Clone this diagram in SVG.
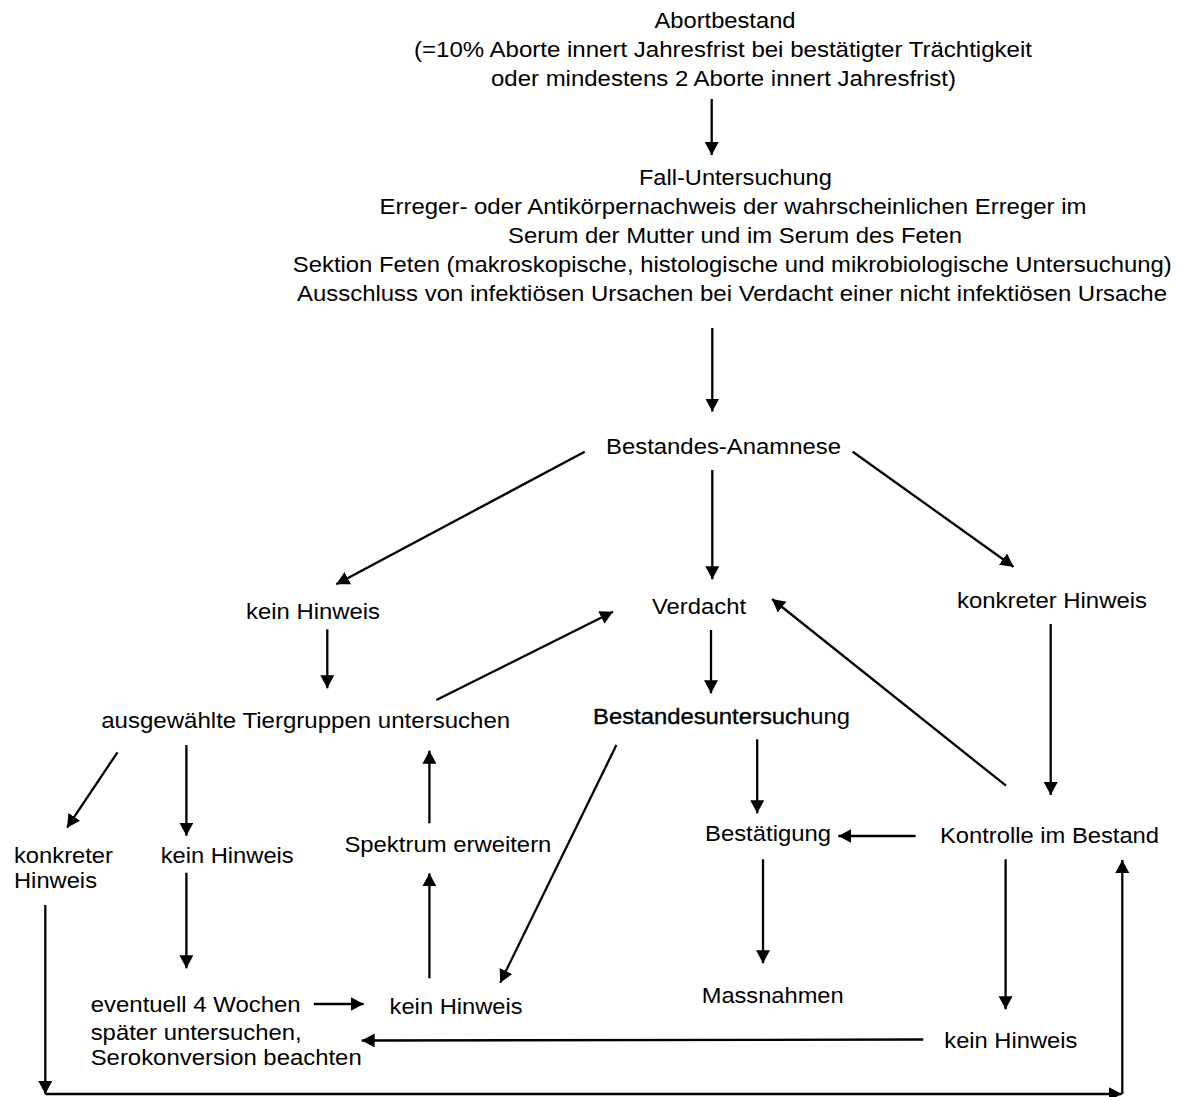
<svg xmlns="http://www.w3.org/2000/svg" width="1180" height="1097" viewBox="0 0 1180 1097">
<defs>
<marker id="ah" markerUnits="userSpaceOnUse" markerWidth="16" markerHeight="16" refX="13" refY="7" orient="auto">
<path d="M0,0 L13,7 L0,14 z" fill="#000"/>
</marker>
<style>
text{font-family:"Liberation Sans",Arial,sans-serif;font-size:22px;fill:#000}
.m{text-anchor:middle}
.b{stroke:#000;stroke-width:0.35}
#connectors line{stroke:#000;stroke-width:2.3;fill:none;marker-end:url(#ah)}
</style>
</defs>
<rect width="1180" height="1097" fill="#fff"/>
<g id="n-abort">
<text class="m" x="725" y="28" textLength="141" lengthAdjust="spacingAndGlyphs">Abortbestand</text>
<text class="m" x="723" y="57" textLength="618" lengthAdjust="spacingAndGlyphs">(=10% Aborte innert Jahresfrist bei bestätigter Trächtigkeit</text>
<text class="m" x="723.5" y="86" textLength="465" lengthAdjust="spacingAndGlyphs">oder mindestens 2 Aborte innert Jahresfrist)</text>
</g>
<g id="n-fall">
<text class="m" x="735.4" y="185" textLength="193" lengthAdjust="spacingAndGlyphs">Fall-Untersuchung</text>
<text class="m" x="733" y="214" textLength="707" lengthAdjust="spacingAndGlyphs">Erreger- oder Antikörpernachweis der wahrscheinlichen Erreger im</text>
<text class="m" x="735" y="243" textLength="454" lengthAdjust="spacingAndGlyphs">Serum der Mutter und im Serum des Feten</text>
<text class="m" x="732.3" y="272" textLength="879" lengthAdjust="spacingAndGlyphs">Sektion Feten (makroskopische, histologische und mikrobiologische Untersuchung)</text>
<text class="m" x="732" y="301" textLength="870" lengthAdjust="spacingAndGlyphs">Ausschluss von infektiösen Ursachen bei Verdacht einer nicht infektiösen Ursache</text>
</g>
<g id="n-anamnese"><text class="m" x="723.5" y="454" textLength="235" lengthAdjust="spacingAndGlyphs">Bestandes-Anamnese</text></g>
<g id="n-keinhinweis1"><text class="m" x="313" y="619" textLength="134" lengthAdjust="spacingAndGlyphs">kein Hinweis</text></g>
<g id="n-verdacht"><text class="m" x="699" y="614" textLength="94" lengthAdjust="spacingAndGlyphs">Verdacht</text></g>
<g id="n-konkret1"><text class="m" x="1052" y="608" textLength="190" lengthAdjust="spacingAndGlyphs">konkreter Hinweis</text></g>
<g id="n-ausgewaehlt"><text class="m" x="305.7" y="728" textLength="409" lengthAdjust="spacingAndGlyphs">ausgewählte Tiergruppen untersuchen</text></g>
<g id="n-bestandesuntersuchung"><text x="593" y="724" textLength="257" lengthAdjust="spacingAndGlyphs"><tspan class="b">Bestandesuntersuch</tspan>ung</text></g>
<g id="n-konkret2">
<text x="14" y="863" textLength="99" lengthAdjust="spacingAndGlyphs">konkreter</text>
<text x="14" y="888" textLength="83" lengthAdjust="spacingAndGlyphs">Hinweis</text>
</g>
<g id="n-keinhinweis2"><text x="160.7" y="863" textLength="133" lengthAdjust="spacingAndGlyphs">kein Hinweis</text></g>
<g id="n-spektrum"><text x="344.4" y="852" textLength="207" lengthAdjust="spacingAndGlyphs">Spektrum erweitern</text></g>
<g id="n-bestaetigung"><text x="705" y="841" textLength="126" lengthAdjust="spacingAndGlyphs">Bestätigung</text></g>
<g id="n-kontrolle"><text x="940" y="843" textLength="219" lengthAdjust="spacingAndGlyphs">Kontrolle im Bestand</text></g>
<g id="n-eventuell">
<text x="90.7" y="1012" textLength="210" lengthAdjust="spacingAndGlyphs">eventuell 4 Wochen</text>
<text x="90.7" y="1040" textLength="211" lengthAdjust="spacingAndGlyphs">später untersuchen,</text>
<text x="90.7" y="1065" textLength="271" lengthAdjust="spacingAndGlyphs">Serokonversion beachten</text>
</g>
<g id="n-keinhinweis3"><text x="389.6" y="1014" textLength="133" lengthAdjust="spacingAndGlyphs">kein Hinweis</text></g>
<g id="n-massnahmen"><text x="701.7" y="1003" textLength="142" lengthAdjust="spacingAndGlyphs">Massnahmen</text></g>
<g id="n-keinhinweis4"><text x="944.3" y="1048" textLength="133" lengthAdjust="spacingAndGlyphs">kein Hinweis</text></g>
<g id="connectors">
<line x1="711.7" y1="99" x2="711.7" y2="155"/>
<line x1="712.3" y1="328" x2="712.3" y2="411.5"/>
<line x1="584.7" y1="451.7" x2="336.3" y2="584.3"/>
<line x1="712.3" y1="470" x2="712.3" y2="579.3"/>
<line x1="852.7" y1="451.7" x2="1013.5" y2="566.7"/>
<line x1="327.3" y1="629.3" x2="327.3" y2="688.3"/>
<line x1="436.4" y1="700" x2="613" y2="611.7"/>
<line x1="711" y1="630" x2="711" y2="693.3"/>
<line x1="1006" y1="785.7" x2="772" y2="599"/>
<line x1="1050.7" y1="624" x2="1050.7" y2="795"/>
<line x1="117.5" y1="752.3" x2="67" y2="827.7"/>
<line x1="186.4" y1="745" x2="186.4" y2="835.7"/>
<line x1="616.4" y1="745" x2="500.2" y2="982.7"/>
<line x1="757.2" y1="739.3" x2="757.2" y2="813.3"/>
<line x1="429.4" y1="823.3" x2="429.4" y2="750.7"/>
<line x1="429.4" y1="978.3" x2="429.4" y2="873.3"/>
<line x1="915.6" y1="836" x2="838.3" y2="836"/>
<line x1="763" y1="859.3" x2="763" y2="963.3"/>
<line x1="1005.6" y1="859.3" x2="1005.6" y2="1009.3"/>
<line x1="186.4" y1="872.7" x2="186.4" y2="968.3"/>
<line x1="313.8" y1="1004" x2="363.6" y2="1004"/>
<line x1="923.3" y1="1039.5" x2="361.7" y2="1040.5"/>
<line x1="45.3" y1="905" x2="45.3" y2="1094"/>
<line x1="45.3" y1="1094" x2="1121.7" y2="1094"/>
<line x1="1122.3" y1="1094" x2="1122.3" y2="860"/>
</g>
</svg>
